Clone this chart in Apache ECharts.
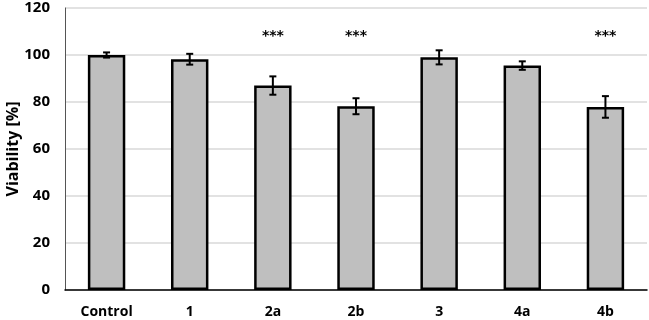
<!DOCTYPE html>
<html>
<head>
<meta charset="utf-8">
<script src="https://cdn.jsdelivr.net/npm/echarts@6/dist/echarts.min.js"></script>
<style>
  html, body { margin: 0; padding: 0; background: #fff; }
  #chart { width: 649px; height: 320px; }
</style>
</head>
<body>
<div id="chart"></div>
<script>
// data
var categories = ['Control', '1', '2a', '2b', '3', '4a', '4b']
var viability = [100, 98.2, 87, 78.2, 99, 95.5, 77.9]
var errors = [1.1, 2.3, 3.9, 3.4, 3, 1.8, 4.6]
var significance = ['', '', '***', '***', '', '', '***']
var starLevel = 108

var chart = echarts.init(document.getElementById('chart'))
var font = "'Open Sans', sans-serif"

chart.setOption({
  animation: false,
  grid: { left: 65, right: 2, top: 8, bottom: 30, outerBoundsMode: 'none' },
  xAxis: {
    type: 'category',
    data: categories,
    axisTick: { show: false },
    axisLine: { lineStyle: { color: '#000', width: 1.5 } },
    axisLabel: { color: '#000', fontFamily: font, fontWeight: 'bold', fontSize: 14, margin: 15 }
  },
  yAxis: {
    type: 'value',
    min: 0,
    max: 120,
    interval: 20,
    name: 'Viability [%]',
    nameLocation: 'middle',
    nameGap: 44,
    nameMoveOverlap: false,
    nameTextStyle: { color: '#000', fontFamily: font, fontWeight: 'bold', fontSize: 16 },
    axisLine: { show: true, lineStyle: { color: '#555', width: 1 } },
    axisTick: { show: false },
    axisLabel: { color: '#000', fontFamily: font, fontWeight: 'bold', fontSize: 15, margin: 15 },
    splitLine: { lineStyle: { color: '#d9d9d9', width: 1.5 } }
  },
  series: [
    {
      type: 'bar',
      data: viability,
      barWidth: '45%',
      itemStyle: { color: '#bfbfbf', borderColor: '#000', borderWidth: 2.5 }
    },
    {
      type: 'custom',
      data: viability.map(function (v, i) { return [i, v - errors[i], v + errors[i]] }),
      renderItem: function (params, api) {
        var lo = api.coord([api.value(0), api.value(1)])
        var hi = api.coord([api.value(0), api.value(2)])
        var x = lo[0]
        var cap = 3.5
        var style = { stroke: '#000', lineWidth: 2 }
        return {
          type: 'group',
          children: [
            { type: 'line', shape: { x1: x, y1: lo[1], x2: x, y2: hi[1] }, style: style },
            { type: 'line', shape: { x1: x - cap, y1: lo[1], x2: x + cap, y2: lo[1] }, style: style },
            { type: 'line', shape: { x1: x - cap, y1: hi[1], x2: x + cap, y2: hi[1] }, style: style }
          ]
        }
      },
      z: 10
    },
    {
      type: 'custom',
      data: significance.map(function (s, i) { return [i, starLevel, s] }),
      renderItem: function (params, api) {
        var p = api.coord([api.value(0), api.value(1)])
        return {
          type: 'text',
          x: p[0],
          y: p[1],
          style: {
            text: significance[params.dataIndex],
            fill: '#000',
            font: "bold 14px 'DejaVu Sans', sans-serif",
            align: 'center',
            verticalAlign: 'middle'
          }
        }
      },
      z: 10
    }
  ]
})
</script>
</body>
</html>
